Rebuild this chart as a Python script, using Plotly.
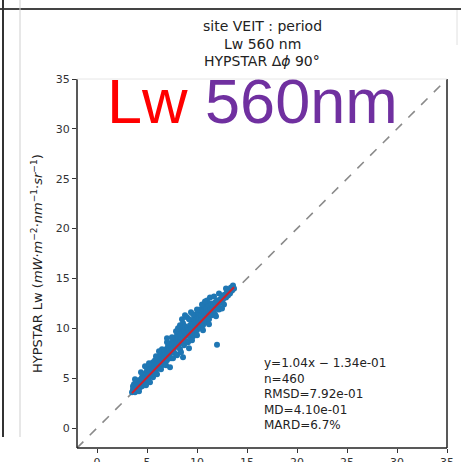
import plotly.graph_objects as go

# ---------------- data ----------------
pts = [
    (3.5, 3.6), (3.6, 3.9), (3.6, 4.2), (3.7, 3.7), (3.7, 4.4), (3.8, 4.0), (3.8, 3.6), (3.9, 4.3),
    (3.9, 4.7), (4.0, 3.9), (4.0, 4.2), (4.1, 4.5), (4.1, 4.0), (4.2, 4.8), (4.2, 4.3), (4.3, 4.1),
    (4.3, 4.6), (4.4, 4.9), (4.4, 4.4), (4.5, 4.2), (4.5, 5.1), (4.6, 4.7), (4.6, 5.4), (4.7, 4.5),
    (4.7, 5.0), (4.8, 5.2), (4.8, 6.2), (4.9, 4.8), (4.9, 5.5), (5.0, 5.0), (5.0, 5.8), (5.1, 5.3),
    (5.1, 4.9), (5.2, 5.6), (5.2, 6.0), (5.3, 5.2), (5.3, 5.8), (5.3, 4.6), (5.4, 5.5), (5.4, 6.3),
    (5.5, 5.9), (5.5, 5.3), (5.6, 6.1), (5.6, 6.6), (5.7, 5.7), (5.7, 6.2), (5.8, 6.0), (5.8, 6.8),
    (5.9, 6.4), (5.9, 5.8), (6.0, 6.3), (6.0, 6.9), (6.1, 6.0), (6.1, 6.6), (6.2, 6.5), (6.2, 7.2),
    (6.3, 6.2), (6.3, 6.8), (6.4, 6.6), (6.4, 7.4), (6.5, 6.9), (6.5, 6.3), (6.6, 7.0), (6.6, 7.6),
    (6.7, 6.7), (6.7, 7.2), (6.8, 7.4), (6.8, 6.5), (6.9, 7.1), (6.9, 7.9), (7.0, 7.3), (7.0, 6.8),
    (7.1, 7.6), (7.1, 8.2), (7.2, 7.2), (7.2, 7.8), (7.3, 7.5), (7.3, 8.5), (7.3, 6.1), (7.4, 7.9),
    (7.4, 7.0), (7.5, 7.7), (7.5, 8.3), (7.6, 8.0), (7.6, 8.8), (7.7, 7.6), (7.7, 8.4), (7.8, 8.1),
    (7.8, 9.0), (7.9, 8.3), (7.9, 7.4), (8.0, 8.6), (8.0, 9.3), (8.1, 8.2), (8.1, 8.9), (8.2, 8.5),
    (8.2, 9.6), (8.3, 8.8), (8.3, 7.9), (8.4, 9.1), (8.4, 9.9), (8.5, 8.6), (8.5, 9.4), (8.5, 10.9),
    (8.6, 7.1), (8.6, 9.0), (8.6, 10.5), (8.7, 9.7), (8.7, 8.3), (8.8, 9.2), (8.8, 10.2), (8.8, 11.3),
    (8.9, 9.5), (8.9, 8.7), (9.0, 9.3), (9.0, 10.0), (9.0, 11.1), (9.1, 8.6), (9.1, 9.8), (9.2, 9.5),
    (9.2, 8.0), (9.3, 10.3), (9.3, 9.1), (9.4, 9.9), (9.4, 10.8), (9.5, 9.6), (9.5, 10.4), (9.6, 9.2),
    (9.6, 10.1), (9.7, 9.9), (9.7, 10.9), (9.8, 10.2), (9.8, 9.5), (9.9, 10.6), (9.9, 11.3), (10.0, 10.3),
    (10.0, 9.8), (10.1, 10.7), (10.1, 11.6), (10.2, 10.4), (10.2, 11.0), (10.3, 10.1), (10.3, 11.9),
    (10.4, 10.8), (10.4, 11.3), (10.5, 10.5), (10.5, 11.7), (10.6, 11.0), (10.6, 10.3), (10.7, 11.4),
    (10.7, 12.2), (10.8, 11.1), (10.8, 10.7), (10.9, 11.5), (10.9, 12.0), (11.0, 11.2), (11.0, 10.6),
    (11.1, 11.7), (11.1, 12.4), (11.2, 11.4), (11.2, 10.9), (11.3, 11.9), (11.3, 13.1), (11.4, 11.6),
    (11.4, 12.5), (11.5, 11.3), (11.5, 12.0), (11.6, 12.3), (11.7, 11.8), (11.8, 12.6), (11.8, 11.4),
    (11.9, 12.2), (12.0, 8.35), (12.0, 12.8), (12.1, 12.4), (12.2, 11.9), (12.3, 12.9), (12.4, 12.6),
    (12.5, 13.3), (12.6, 12.9), (12.7, 12.4), (12.8, 13.4), (12.9, 13.1), (13.0, 13.7), (13.1, 13.3),
    (13.2, 13.9), (13.3, 13.5), (13.4, 14.1), (13.5, 13.8), (13.6, 14.3), (13.7, 14.0),
    # wider scatter of the band
    (4.2, 3.7), (4.9, 4.3), (5.6, 5.1), (6.0, 5.4), (6.4, 5.9), (6.9, 6.3), (7.6, 7.0), (8.0, 7.3),
    (8.4, 7.6), (9.5, 8.8), (10.0, 9.3), (10.6, 9.8), (11.2, 10.4), (11.9, 11.2), (12.5, 12.0),
    (5.2, 6.5), (5.9, 7.2), (6.5, 7.9), (7.0, 8.6), (7.5, 9.1), (7.9, 9.7), (8.3, 10.3), (9.2, 10.9),
    (9.6, 11.4), (10.0, 11.9), (10.5, 12.4), (11.0, 12.8), (11.7, 13.2), (12.2, 13.5), (12.9, 14.0),
    (7.0, 9.0), (8.1, 10.0), (9.4, 11.6), (10.8, 12.7), (6.2, 7.7), (4.4, 5.6), (3.8, 4.9),
]
x_ref = [p[0] for p in pts]
y_hyp = [p[1] for p in pts]

slope = 1.04
intercept = -0.134
fit_x = [3.5, 13.7]
fit_y = [slope * v + intercept for v in fit_x]
diag = [-2, 35]

ticks = [0, 5, 10, 15, 20, 25, 30, 35]
title_lines = ["site VEIT : period", "Lw 560 nm", "HYPSTAR Δ<i>ϕ</i> 90°"]
stats_lines = ["y=1.04x − 1.34e-01", "n=460", "RMSD=7.92e-01", "MD=4.10e-01", "MARD=6.7%"]
ylabel = "HYPSTAR Lw (<i>mW</i>·<i>m</i><sup>−2</sup>·<i>nm</i><sup>−1</sup>·<i>sr</i><sup>−1</sup>)"

# ---------------- layout helpers ----------------
W, H = 461, 462
L, R, T, B = 77, 14, 79, 14
PW, PH = W - L - R, H - T - B


def px(xp):
    return (xp - L) / PW


def py(yp):
    return (H - B - yp) / PH


fig = go.Figure()
fig.add_trace(go.Scatter(x=diag, y=diag, mode="lines",
                         line=dict(color="#8a8a8a", width=1.6, dash="dash"),
                         hoverinfo="skip", showlegend=False))
fig.add_trace(go.Scatter(x=x_ref, y=y_hyp, mode="markers",
                         marker=dict(color="#1f77b4", size=6, line=dict(width=0)),
                         showlegend=False))
fig.add_trace(go.Scatter(x=fit_x, y=fit_y, mode="lines",
                         line=dict(color="#d0202a", width=2),
                         showlegend=False))

axis_common = dict(range=[-2, 35], tickvals=ticks, showgrid=False, zeroline=False,
                   showline=False, ticks="outside", ticklen=4, tickcolor="#333",
                   automargin=False,
                   tickfont=dict(family="DejaVu Sans", size=11, color="#333"))
fig.update_xaxes(**axis_common)
fig.update_yaxes(**axis_common)

shapes = [
    # axes frame
    dict(type="line", xref="paper", yref="paper", x0=0, x1=0, y0=0, y1=1, line=dict(color="#222", width=1.5)),
    dict(type="line", xref="paper", yref="paper", x0=0, x1=1, y0=0, y1=0, line=dict(color="#222", width=1.5)),
    dict(type="line", xref="paper", yref="paper", x0=1, x1=1, y0=0, y1=1, line=dict(color="#222", width=1.5)),
    dict(type="line", xref="paper", yref="paper", x0=0, x1=1, y0=1, y1=1, line=dict(color="#e6e6e6", width=1)),
    # slide lines
    dict(type="line", xref="paper", yref="paper", x0=px(0), x1=px(461), y0=py(9), y1=py(9),
         line=dict(color="#444", width=2)),
    dict(type="line", xref="paper", yref="paper", x0=px(3), x1=px(3), y0=py(0), y1=py(437),
         line=dict(color="#333", width=2)),
    dict(type="line", xref="paper", yref="paper", x0=px(20), x1=px(20), y0=py(0), y1=py(437),
         line=dict(color="#cfcfcf", width=1)),
    dict(type="line", xref="paper", yref="paper", x0=px(457), x1=px(457), y0=py(10), y1=py(45),
         line=dict(color="#e0e0e0", width=1)),
]

annotations = []
for i, t in enumerate(title_lines):
    annotations.append(dict(text=t, xref="paper", yref="paper", x=px(262), y=py(26 + 17.5 * i),
                            xanchor="center", yanchor="middle", showarrow=False,
                            font=dict(family="DejaVu Sans", size=14, color="#222")))
for i, t in enumerate(stats_lines):
    annotations.append(dict(text=t, xref="paper", yref="paper", x=px(262), y=py(363 + 15.5 * i),
                            xanchor="left", yanchor="middle", showarrow=False,
                            font=dict(family="DejaVu Sans", size=12, color="#222")))
annotations.append(dict(text=ylabel, xref="paper", yref="paper", x=px(37), y=py(264),
                        xanchor="center", yanchor="middle", textangle=-90, showarrow=False,
                        font=dict(family="DejaVu Sans", size=13, color="#222")))
annotations.append(dict(text="<span style='color:#ff0000'>Lw</span> <span style='color:#7030a0'>560nm</span>",
                        xref="paper", yref="paper", x=px(252), y=py(101),
                        xanchor="center", yanchor="middle", showarrow=False,
                        font=dict(family="Liberation Sans", size=63, color="#7030a0")))

fig.update_layout(width=W, height=H, margin=dict(l=L, r=R, t=T, b=B),
                  paper_bgcolor="white", plot_bgcolor="white",
                  shapes=shapes, annotations=annotations, showlegend=False)

fig.write_html("out.html")
